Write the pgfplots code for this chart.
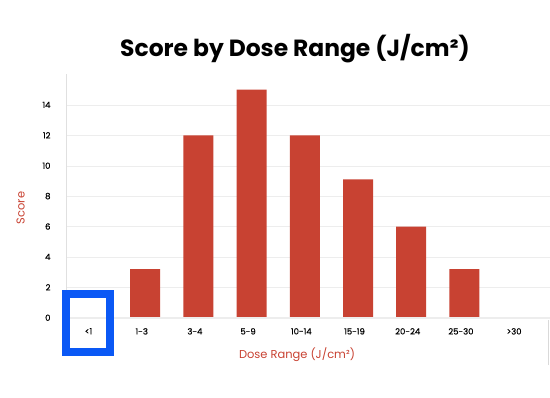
\documentclass[border=0pt]{standalone}
\usepackage{pgfplots}
\pgfplotsset{compat=1.18}
\usepackage{fontspec}
\setmainfont{Poppins}
\newfontfamily\tickfont[FakeBold=0.6]{Poppins}
\definecolor{barred}{RGB}{200,66,50}
\definecolor{boxblue}{RGB}{10,88,245}
\begin{document}
\begin{tikzpicture}[x=1bp,y=1bp]
\useasboundingbox (0,0) rectangle (550,397);
\begin{axis}[
  at={(66bp,79.3bp)}, anchor=south west,
  scale only axis, width=484bp, height=243.2bp,
  xmin=-0.423, xmax=8.675, ymin=0, ymax=16,
  ybar, bar width=30bp, bar shift=3.5bp,
  xtick={0,...,8},
  xticklabels={<1,1-3,3-4,5-9,10-14,15-19,20-24,25-30,>30},
  ytick={0,2,...,14},
  ymajorgrids, grid style={draw=black!7},
  axis x line*=bottom,
  x axis line style={draw=none},
  axis y line*=left,
  y axis line style={draw=black!12},
  major tick length=0pt,
  tick label style={font=\tickfont\fontsize{8.5}{9}\selectfont, text=black},
  /pgf/number format/assume math mode=true,
  yticklabel style={xshift=-12bp},
  xticklabel style={yshift=-7bp},
  ylabel={Score}, ylabel style={font=\fontsize{11.5}{12}\selectfont, text=barred, at={(axis description cs:-0.078,0.451)}},
  clip=false,
]
\addplot[fill=barred, draw=none] coordinates {(0,0) (1,3.2) (2,12) (3,15) (4,12) (5,9.1) (6,6) (7,3.2) (8,0)};
\end{axis}
\draw[black!7, line width=0.8bp] (66,79.3) -- (550,79.3);
\node[font=\fontsize{11.5}{12}\selectfont, text=barred] at (297,42) {Dose Range (J/cm²)};
\node[font=\bfseries\fontsize{23.5}{26}\selectfont] at (295,348) {Score by Dose Range (J/cm²)};
\draw[boxblue, line width=8bp] (66,45) rectangle (110,103);
\draw[black!15, line width=1bp] (548,32) -- (548,77);
\end{tikzpicture}
\end{document}
